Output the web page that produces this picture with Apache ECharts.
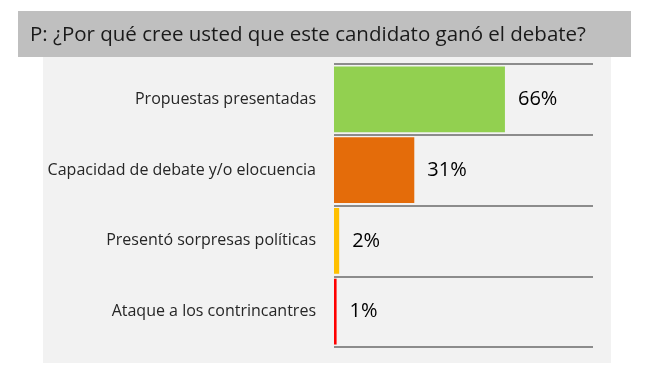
<!DOCTYPE html>
<html>
<head>
<meta charset="utf-8">
<script src="https://cdn.jsdelivr.net/npm/echarts@6/dist/echarts.min.js"></script>
<style>html,body{margin:0;padding:0;background:#fff;}#c{width:660px;height:385px;}</style>
</head>
<body>
<div id="c"></div>
<script>
const titleText = 'P: ¿Por qué cree usted que este candidato ganó el debate?';
const categories = ['Propuestas presentadas', 'Capacidad de debate y/o elocuencia', 'Presentó sorpresas políticas', 'Ataque a los contrincantres'];
const values = [66, 31, 2, 1];
const colors = ['#92d050', '#e46c0a', '#ffc000', '#ff0000'];

const chart = echarts.init(document.getElementById('c'), null, {renderer: 'canvas'});
chart.setOption({
  animation: false,
  backgroundColor: '#ffffff',
  graphic: [
    {type: 'rect', z: -10, shape: {x: 18, y: 11, width: 613, height: 46}, style: {fill: '#bfbfbf'}},
    {type: 'rect', z: -10, shape: {x: 43, y: 57, width: 568, height: 306}, style: {fill: '#f2f2f2'}},
    {type: 'text', x: 30, y: 35.5, style: {text: titleText, font: '20.5px "Open Sans", sans-serif', fill: '#1a1a1a', verticalAlign: 'middle'}}
  ],
  grid: {left: 334, right: 67, top: 64, bottom: 38, containLabel: false},
  xAxis: {type: 'value', min: 0, max: 100, show: false},
  yAxis: {
    type: 'category', data: categories, inverse: true,
    axisLine: {show: false}, axisTick: {show: false},
    splitLine: {show: true, lineStyle: {color: '#8c8c8c', width: 2}},
    axisLabel: {color: '#262626', fontSize: 16, margin: 18, padding: [4, 0, 0, 0], fontFamily: '"Open Sans", sans-serif'}
  },
  series: [{
    type: 'bar',
    data: values.map((v, i) => ({value: v, itemStyle: {color: colors[i]}})),
    barCategoryGap: '7%',
    label: {show: true, position: 'right', distance: 13, formatter: '{c}%', color: '#000', fontSize: 20, fontFamily: '"Open Sans", sans-serif'}
  }]
});
</script>
</body>
</html>
